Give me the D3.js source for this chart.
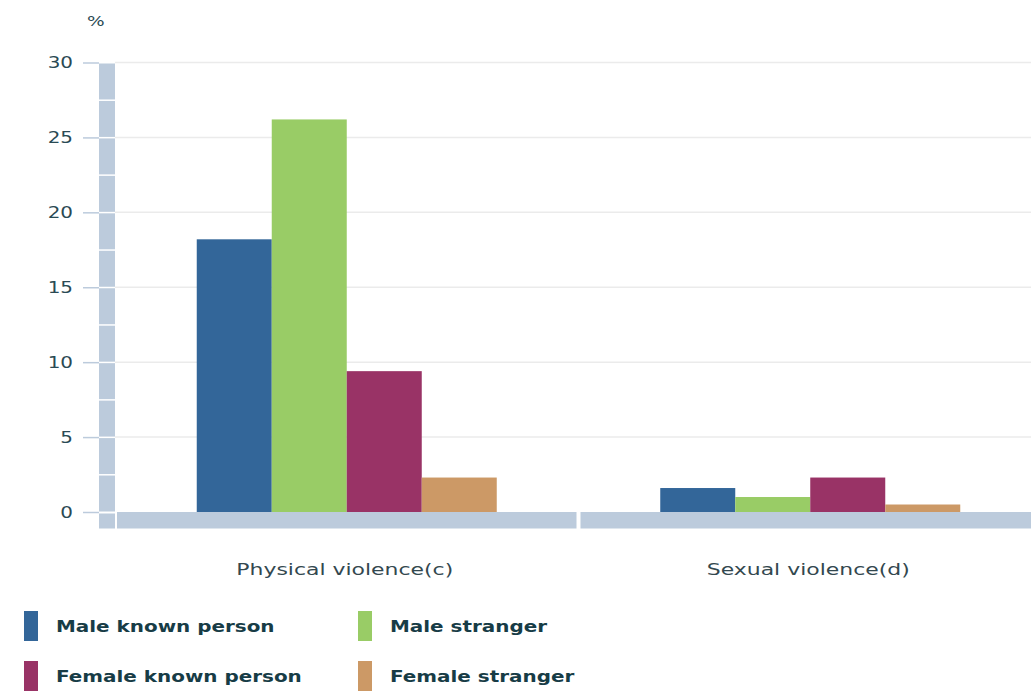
<!DOCTYPE html>
<meta charset="utf-8">
<script src="https://d3js.org/d3.v7.min.js"></script>
<style>
body { margin: 0; background: #fff; }
text { font-family: "DejaVu Sans", Verdana, sans-serif; }
.tick text { fill: #2a4a54; font-size: 15px; }
.tick line { stroke: #bccbdc; stroke-width: 1.5; }
.grid line { stroke: #ebebeb; stroke-width: 1.5; }
.band { fill: #bccbdc; }
.cat { fill: #33484f; font-size: 16.5px; }
.legend text { fill: #173c46; font-size: 15px; font-weight: bold; }
</style>
<div id="chart"></div>
<script>
// data
var categories = ["Physical violence(c)", "Sexual violence(d)"];
var series = ["Male known person", "Male stranger", "Female known person", "Female stranger"];
var maleKnown = [18.2, 1.6];
var maleStranger = [26.2, 1.0];
var femaleKnown = [9.4, 2.3];
var femaleStranger = [2.3, 0.5];
var yTicks = [0, 5, 10, 15, 20, 25, 30];
var colors = ["#336699", "#99cc66", "#993366", "#cc9966"];

var values = [maleKnown, maleStranger, femaleKnown, femaleStranger];
var stretch = 1.33; // text in the source is drawn wide

var W = 1031, H = 691;
var svg = d3.select("#chart").append("svg")
    .attr("width", W)
    .attr("height", H);

var y = d3.scaleLinear().domain([0, 30]).range([512, 62.5]);
var x0 = d3.scaleBand().domain(categories).range([115, 1042]).padding(0);
var x1 = d3.scaleBand().domain(series).range([0, x0.bandwidth()])
    .paddingInner(0).paddingOuter(1.09);

// gridlines
svg.append("g").attr("class", "grid")
  .selectAll("line")
  .data(yTicks.filter(function(d) { return d > 0; }))
  .enter().append("line")
    .attr("x1", 115).attr("x2", W)
    .attr("y1", function(d) { return y(d); })
    .attr("y2", function(d) { return y(d); });

// bars
var rows = [];
categories.forEach(function(c, i) {
    series.forEach(function(s, j) {
        rows.push({cat: c, ser: s, value: values[j][i], color: colors[j]});
    });
});

svg.append("g").selectAll("rect")
  .data(rows)
  .enter().append("rect")
    .attr("x", function(d) { return x0(d.cat) + x1(d.ser); })
    .attr("width", x1.bandwidth())
    .attr("y", function(d) { return y(d.value); })
    .attr("height", function(d) { return y(0) - y(d.value); })
    .attr("fill", function(d) { return d.color; });

// vertical axis band, cut every 2.5
var steps = d3.range(0, 30, 2.5);
svg.append("g").selectAll("rect")
  .data(steps)
  .enter().append("rect")
    .attr("class", "band")
    .attr("x", 99).attr("width", 16)
    .attr("y", function(d) { return y(d + 2.5) + 1; })
    .attr("height", function(d) { return y(d) - y(d + 2.5) - 1.5; });
svg.append("rect").attr("class", "band")
    .attr("x", 99).attr("width", 16)
    .attr("y", y(0) + 1.5).attr("height", 528.5 - y(0) - 1.5);

// horizontal axis band, cut between categories
var cut = x0(categories[1]);
svg.append("rect").attr("class", "band")
    .attr("x", 117).attr("width", cut - 2 - 117)
    .attr("y", y(0)).attr("height", 16.5);
svg.append("rect").attr("class", "band")
    .attr("x", cut + 2).attr("width", W - cut - 2)
    .attr("y", y(0)).attr("height", 16.5);

// y axis
svg.append("g")
    .attr("transform", "translate(99,0)")
    .call(d3.axisLeft(y).tickValues(yTicks).tickSize(16))
    .call(function(g) { g.select(".domain").remove(); })
    .call(function(g) {
        g.selectAll(".tick text")
          .attr("x", -26 / stretch)
          .attr("dy", "0.36em")
          .attr("transform", "scale(" + stretch + ",1)");
    });

svg.append("text")
    .attr("transform", "translate(87,26) scale(" + stretch + ",1)")
    .style("font-size", "14px").style("fill", "#2a4a54")
    .text("%");

// category labels
svg.append("g").selectAll("text")
  .data(categories)
  .enter().append("text")
    .attr("class", "cat")
    .attr("text-anchor", "middle")
    .attr("transform", function(d) {
        return "translate(" + (x0(d) + x0.bandwidth() / 2 - 2) + ",575) scale(" + stretch + ",1)";
    })
    .text(function(d) { return d; });

// legend
var legend = svg.append("g").attr("class", "legend")
  .selectAll("g")
  .data(series)
  .enter().append("g")
    .attr("transform", function(d, i) {
        return "translate(" + (24 + (i % 2) * 334) + "," + (611 + Math.floor(i / 2) * 50) + ")";
    });

legend.append("rect")
    .attr("width", 14).attr("height", 30)
    .attr("fill", function(d, i) { return colors[i]; });

legend.append("text")
    .attr("transform", "translate(32,21) scale(" + stretch + ",1)")
    .text(function(d) { return d; });
</script>
